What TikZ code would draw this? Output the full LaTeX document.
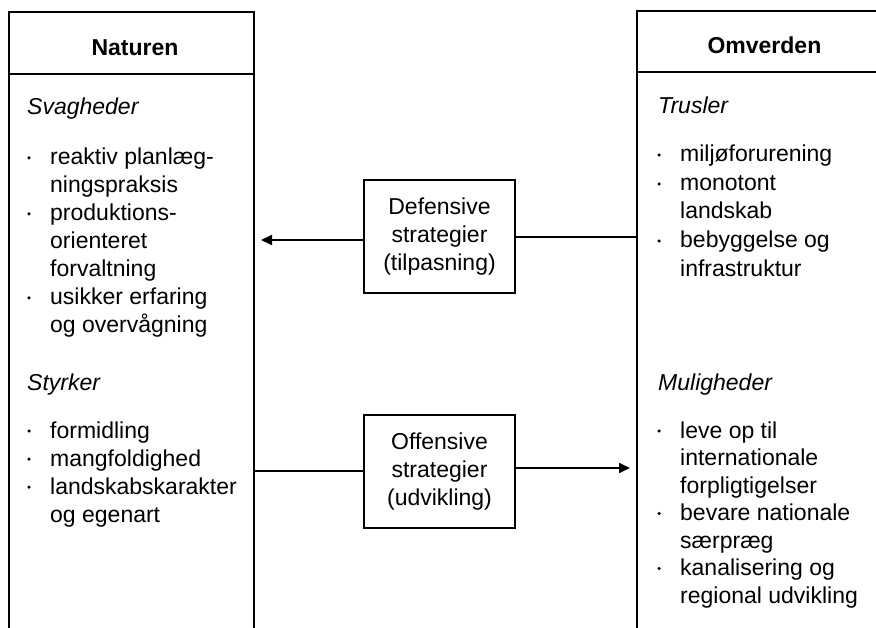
\documentclass[tikz,border=0pt]{standalone}
\usepackage{fontspec}
\setmainfont{Liberation Sans}
\usetikzlibrary{arrows.meta}
\begin{document}
\begin{tikzpicture}[x=1pt,y=-1pt,
  box/.style={draw, line width=1.9pt, inner sep=0pt, rectangle},
  hd/.style={box, font=\fontsize{23}{28}\selectfont\bfseries, text height=26pt, text depth=0pt, anchor=north west},
  ln/.style={anchor=base west, inner sep=0pt, font=\fontsize{23}{28}\selectfont},
  cat/.style={anchor=base west, inner sep=0pt, font=\fontsize{23}{28}\selectfont\itshape},
  bul/.style={circle, fill, inner sep=0pt, minimum size=3.5pt},
  strat/.style={box, line width=1.8pt, align=center, minimum width=151pt, minimum height=113pt, font=\fontsize{23}{28}\selectfont},
  conn/.style={line width=1.8pt},
  arr/.style={conn, -{Triangle[length=11pt,width=10pt]}}
]
\useasboundingbox (0,0) rectangle (876,628);
\clip (-1,-1) rectangle (877,629);
% outer boxes (open at the bottom / right edge of the picture)
\node[box, anchor=north west, minimum width=245pt, minimum height=660pt] (natbox) at (8,11) {};
\node[hd, minimum width=245pt, minimum height=62pt] (naturen) at (8,11) {\hspace*{7pt}Naturen};
\node[box, anchor=north west, minimum width=255pt, minimum height=660pt] (omvbox) at (636,10) {};
\node[hd, minimum width=255pt, minimum height=61pt, text height=25pt] (omverden) at (636,10) {Omverden};

% left column
\node[cat] (svag) at (27,115) {Svagheder};
\foreach \t/\y [count=\i] in {reaktiv planlæg-/165, ningspraksis/193, produktions-/221, orienteret/249, forvaltning/277, usikker erfaring/305, og overvågning/333}
  {\node[ln] (L\i) at (50,\y) {\t};}
\node[cat] (styr) at (27,391) {Styrker};
\foreach \t/\y [count=\i] in {formidling/438, mangfoldighed/466, landskabskarakter/494, og egenart/522}
  {\node[ln] (LS\i) at (50,\y) {\t};}
\foreach \y [count=\i] in {165,221,305,438,466,494}
  {\node[bul] (LB\i) at (29,\y-7) {};}

% right column
\node[cat] (trus) at (658,114) {Trusler};
\foreach \t/\y [count=\i] in {miljøforurening/162, monotont/191, landskab/219, bebyggelse og/248, infrastruktur/277}
  {\node[ln] (R\i) at (680,\y) {\t};}
\node[cat] (mul) at (658,391) {Muligheder};
\foreach \t/\y [count=\i] in {leve op til/438, internationale/465.5, forpligtigelser/493, bevare nationale/520.5, særpræg/548, kanalisering og/575.5, regional udvikling/603}
  {\node[ln] (RM\i) at (680,\y) {\t};}
\foreach \y [count=\i] in {162,191,248,438,520.5,575.5}
  {\node[bul] (RB\i) at (659,\y-7) {};}

% strategies
\node[strat] (def) at (439.5,236.5) {Defensive\\strategier\\(tilpasning)};
\node[strat] (off) at (439.5,471.5) {Offensive\\strategier\\(udvikling)};

% connectors
\coordinate (deftip) at (261,240);
\coordinate (offtip) at (630,468);
\coordinate (defr) at ([yshift=-0.5pt]def.east);
\coordinate (offl) at ([yshift=0.5pt]off.west);
\draw[conn] (defr) -- (defr -| omvbox.west);
\draw[arr] ([yshift=-3.5pt]def.west) -- (deftip);
\draw[conn] (offl -| natbox.east) -- (offl);
\draw[arr] ([yshift=3.5pt]off.east) -- (offtip);
\end{tikzpicture}
\end{document}
